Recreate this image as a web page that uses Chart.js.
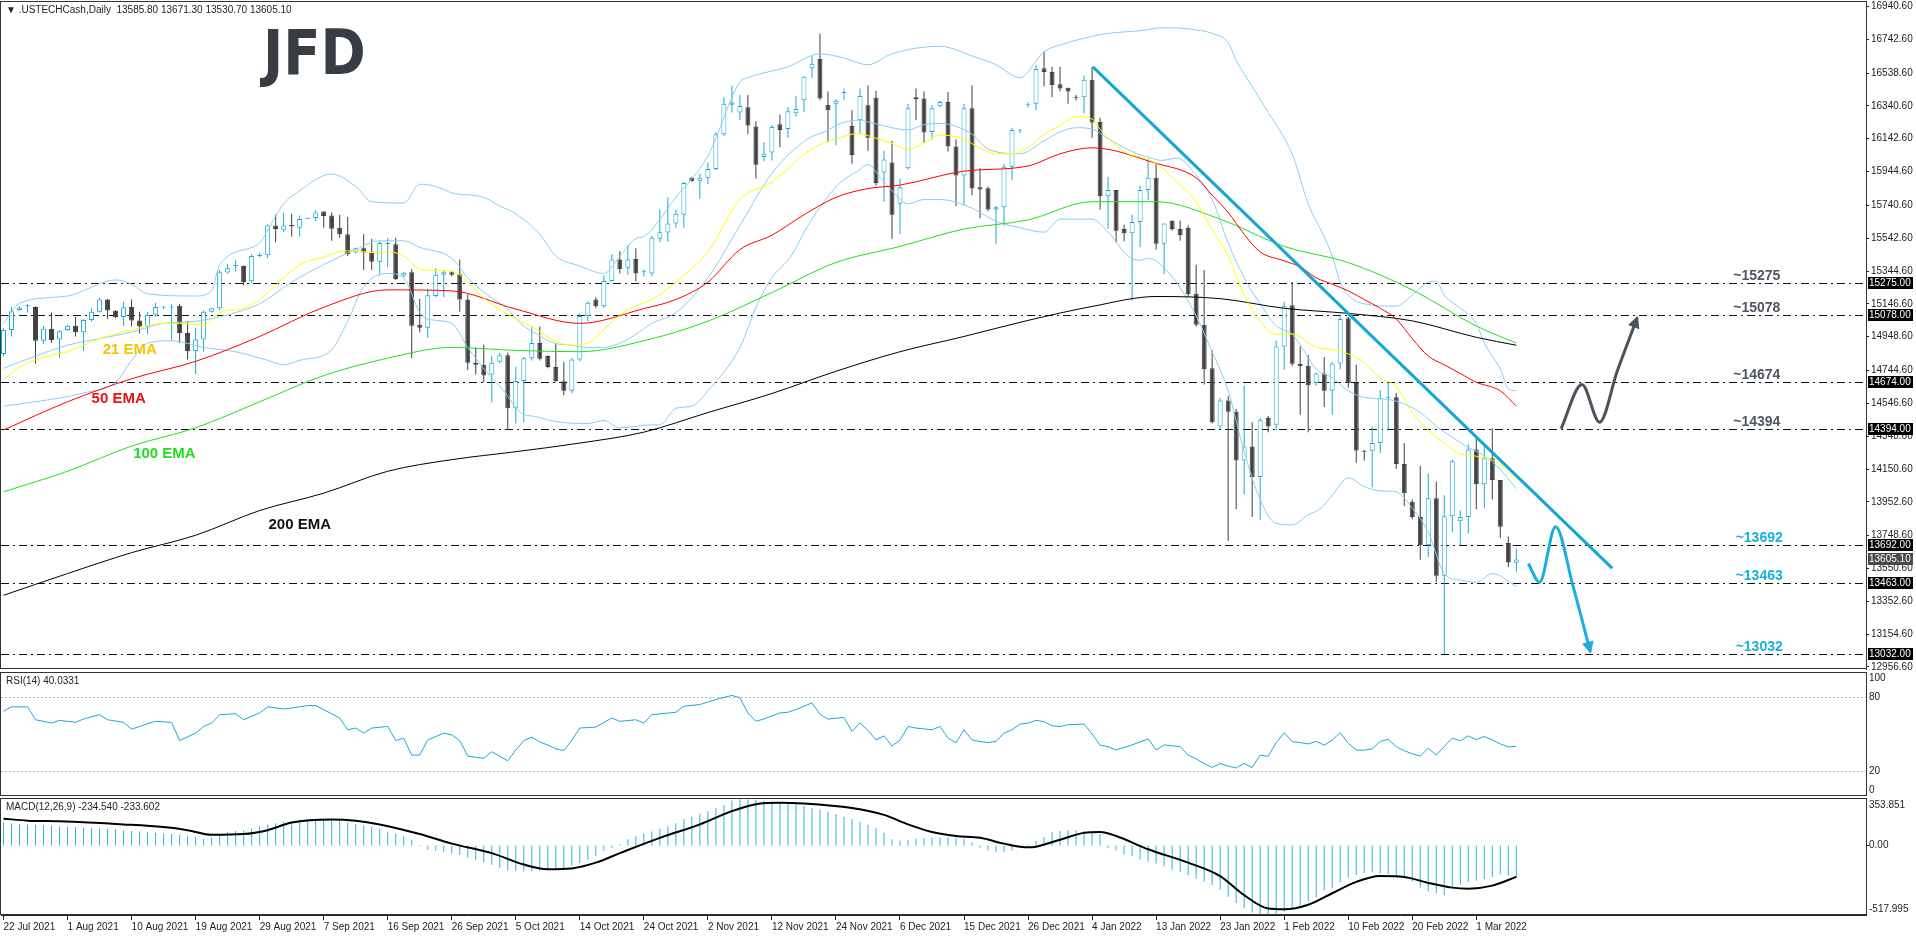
<!DOCTYPE html>
<html>
<head>
<meta charset="utf-8">
<title>.USTECHCash Daily</title>
<script src="https://cdn.jsdelivr.net/npm/chart.js@4.4.1/dist/chart.umd.min.js"></script>
<style>
  html, body { margin: 0; padding: 0; background: #fff; }
  #wrap { position: relative; width: 1916px; height: 936px; overflow: hidden; font-family: "Liberation Sans", Arial, sans-serif; }
  #wrap canvas { position: absolute; left: 0; }
  .tag { position: absolute; left: 6px; font-size: 10px; color: #222; white-space: pre; }
  #logo { position: absolute; left: 263px; top: 22px; font-family: "DejaVu Sans"; font-weight: bold; font-size: 62px; line-height: 62px;
    color: #383d44; transform: scaleX(0.88); transform-origin: 0 0; }
</style>
</head>
<body>
<div id="wrap">
  <canvas id="main" width="1916" height="682" style="top:0;width:1916px;height:682px"></canvas>
  <canvas id="rsi" width="1916" height="124" style="top:672px;width:1916px;height:124px"></canvas>
  <canvas id="macd" width="1916" height="138" style="top:798px;width:1916px;height:138px"></canvas>
  <div class="tag" style="top:4px">▼ .USTECHCash,Daily  13585.80 13671.30 13530.70 13605.10</div>
  <div id="logo">JFD</div>
  <div class="tag" style="top:675px">RSI(14) 40.0331</div>
  <div class="tag" style="top:801px">MACD(12,26,9) -234.540 -233.602</div>
</div>
<script>
// price axis labels (right side)
const priceTicks = [16940.6, 16742.6, 16538.6, 16340.6, 16142.6, 15944.6, 15740.6, 15542.6, 15344.6, 15146.6,
  14948.6, 14744.6, 14546.6, 14348.6, 14150.6, 13952.6, 13748.6, 13550.6, 13352.6, 13154.6, 12956.6];

// one date label every 8 bars
const dateLabels = ['22 Jul 2021', '1 Aug 2021', '10 Aug 2021', '19 Aug 2021', '29 Aug 2021', '7 Sep 2021',
  '16 Sep 2021', '26 Sep 2021', '5 Oct 2021', '14 Oct 2021', '24 Oct 2021', '2 Nov 2021', '12 Nov 2021',
  '24 Nov 2021', '6 Dec 2021', '15 Dec 2021', '26 Dec 2021', '4 Jan 2022', '13 Jan 2022', '23 Jan 2022',
  '1 Feb 2022', '10 Feb 2022', '20 Feb 2022', '1 Mar 2022'];

const opens = [
  14845,14989,15110,15133,15128,14924,14997,14931,14989,15015,
  14976,15050,15099,15173,15105,15068,15128,15047,15010,15081,
  15125,15125,15136,14971,14863,14931,15099,15120,15336,15375,
  15375,15283,15436,15440,15619,15593,15622,15606,15660,15664,
  15703,15679,15606,15566,15456,15482,15461,15401,15508,15506,
  15317,15338,15020,15002,15194,15322,15338,15325,15173,14792,
  14779,14721,14797,14837,14517,14682,14819,14910,14832,14766,
  14680,14622,14811,15073,15173,15133,15285,15414,15364,15417,
  15338,15330,15540,15577,15632,15684,15907,15886,15907,15960,
  16170,16348,16301,16332,16217,16033,16059,16230,16201,16296,
  16374,16568,16624,16348,16353,16419,16220,16254,16345,16390,
  15939,15999,15750,15965,16393,16385,16183,16338,16364,16096,
  15921,16327,15850,15844,15716,15729,15973,16193,16345,16353,
  16568,16545,16471,16450,16393,16393,16498,16243,15795,15834,
  15598,15572,15640,15834,15907,15509,15650,15598,15606,15207,
  15021,14758,14407,14564,14496,14202,14286,14102,14459,14417,
  14889,15139,14785,14774,14669,14727,14622,14787,15060,14669,
  14257,14260,14307,14577,14583,14181,13953,13861,13691,13974,
  13507,13866,13835,13861,14268,14058,14215,14084,13704,13585.8];
const highs = [
  15000,15128,15130,15145,15133,15015,15094,14989,15020,15068,
  15054,15120,15183,15178,15108,15160,15173,15099,15099,15154,
  15133,15145,15146,15042,15002,15107,15122,15351,15388,15409,
  15378,15448,15456,15627,15684,15698,15690,15679,15668,15711,
  15705,15698,15684,15671,15485,15566,15540,15527,15545,15545,
  15340,15356,15178,15238,15362,15351,15343,15414,15204,14884,
  14902,14832,14850,14853,14766,14826,15010,15010,14837,14910,
  14798,14819,15089,15162,15186,15317,15448,15466,15501,15482,
  15356,15558,15716,15789,15716,15881,15910,15933,15999,16183,
  16393,16464,16406,16406,16248,16122,16227,16288,16332,16401,
  16520,16642,16778,16427,16380,16445,16314,16445,16464,16432,
  16070,16130,15902,16353,16445,16427,16345,16372,16424,16138,
  16353,16464,15965,15855,15737,15991,16209,16201,16361,16589,
  16668,16576,16576,16450,16406,16524,16576,16269,15913,15834,
  15624,15684,15860,16025,15999,15632,15650,15650,15619,15383,
  15351,14868,14580,14590,14512,14653,14433,14459,14470,14924,
  15160,15278,14889,14837,14732,14824,14798,15081,15068,14779,
  14267,14407,14627,14674,14609,14307,13966,14171,14124,14076,
  13992,14207,13900,14302,14333,14286,14396,14084,13743,13671.3];
const lows = [
  14830,14950,15105,15095,14785,14905,14910,14819,14985,14950,
  14863,15041,15094,15055,15060,15015,15010,14968,14963,15068,
  15115,14924,14910,14811,14722,14858,15094,15107,15330,15343,
  15259,15272,15430,15422,15519,15580,15553,15553,15658,15645,
  15606,15527,15545,15435,15450,15351,15351,15317,15369,15291,
  15304,14819,14976,14942,15186,15186,15312,15099,14748,14721,
  14674,14551,14787,14386,14425,14433,14805,14805,14758,14674,
  14596,14609,14800,15042,15120,15120,15280,15330,15322,15283,
  15312,15312,15519,15522,15606,15606,15883,15781,15868,15952,
  16160,16301,16254,16170,15902,16007,16012,16091,16149,16275,
  16306,16511,16374,16122,16104,16374,15991,16175,16070,15860,
  15763,15540,15566,15955,16254,16117,16138,16332,16065,15737,
  15742,15802,15663,15705,15506,15619,15894,16175,16332,16314,
  16458,16393,16427,16353,16374,16296,16149,15716,15600,15519,
  15524,15165,15488,15771,15475,15325,15587,15527,15186,15010,
  14661,14425,14394,13717,13908,13998,13861,13843,14373,14386,
  14748,14772,14478,14373,14653,14525,14478,14753,14640,14189,
  14202,14040,14247,14391,14150,13927,13848,13604,13620,13467,
  13035,13769,13691,13761,13908,13914,13966,13735,13559,13530.7];
const closes = [
  14989,15102,15125,15135,14924,14997,14929,14981,15015,14976,
  15050,15099,15173,15107,15068,15126,15047,15010,15081,15128,
  15128,15130,14971,14863,14931,15099,15120,15338,15362,15378,
  15278,15435,15440,15619,15598,15619,15614,15658,15664,15698,
  15677,15600,15566,15448,15482,15456,15401,15514,15511,15296,
  15335,15015,15002,15199,15322,15338,15322,15173,14792,14779,
  14714,14792,14837,14517,14682,14819,14910,14816,14766,14680,
  14622,14811,15073,15154,15133,15285,15414,15356,15414,15330,
  15342,15545,15579,15632,15690,15876,15886,15907,15960,16170,
  16353,16361,16340,16222,15986,16052,16214,16196,16309,16322,
  16516,16595,16385,16314,16372,16421,16044,16401,16149,15876,
  16018,15684,15850,16327,16380,16180,16327,16364,16096,15921,
  16327,15842,15836,15716,15729,15973,16196,16196,16350,16563,
  16545,16466,16445,16427,16390,16498,16240,15795,15834,15587,
  15572,15640,15834,15907,15509,15632,15598,15561,15204,15021,
  14753,14433,14564,14496,14202,14286,14102,14444,14407,14889,
  15133,14785,14772,14656,14727,14622,14787,15055,14669,14262,
  14254,14307,14577,14583,14181,14005,13861,13691,13974,13507,
  13866,14197,13861,14268,14058,14215,14084,13803,13586,13605.1];

// moving averages: [bar, price]
const ema21 = [[0,14687],[2,14766],[6,14837],[8,14858],[12,14937],[16,14989],[20,15029],[22,15029],[25,15021],[27,15094],
  [30,15120],[32,15173],[35,15304],[37,15383],[40,15430],[42,15461],[44,15467],[46,15456],[48,15461],[50,15435],[52,15356],
  [56,15343],[57.5,15304],[59.6,15199],[61.7,15120],[64.6,15042],[66.7,14989],[68.8,14924],[70.9,14897],[73,14910],[75,14989],
  [77,15081],[79,15133],[81,15173],[84,15278],[88,15461],[92,15776],[96,15881],[100.5,16065],[102.5,16117],[104.6,16149],
  [106.7,16175],[108.8,16149],[110.9,16117],[113,16078],[115,16117],[117,16165],[120,16140],[122,16085],[124,16052],[126,16052],
  [128,16091],[130,16170],[132,16222],[134,16275],[136,16262],[137,16200],[140,16065],[143,16018],[144.6,15973],[146,15907],
  [148.8,15776],[151,15593],[153,15435],[155,15199],[157,15042],[159,14963],[161,14966],[164,14884],[166,14871],[168,14845],
  [170,14792],[172,14701],[174,14648],[176,14491],[178,14386],[180,14307],[182,14241],[184,14228],[186.7,14189],[189,14084]];
const ema50 = [[0,14386],[8,14556],[16,14695],[24,14800],[32,14950],[40,15126],[48,15231],[56,15225],[64,15115],[72,15029],
  [80,15118],[84,15173],[88,15278],[92,15474],[96,15561],[100,15684],[104,15789],[108,15842],[112,15863],[120,15947],
  [128,15978],[132,16052],[136,16088],[144,15994],[149,15907],[151,15802],[153,15698],[155,15566],[157,15460],[160,15406],
  [162,15370],[164,15304],[166,15265],[168,15225],[170,15173],[172,15120],[174,15055],[176,14937],[178,14832],[180,14779],
  [182,14727],[184,14674],[187,14622],[189,14530]];
const ema100 = [[0,14013],[8,14137],[16,14289],[24,14399],[32,14556],[40,14714],[48,14819],[56,14884],[64,14866],[72,14858],
  [80,14924],[88,15042],[96,15215],[104,15396],[112,15493],[120,15598],[128,15653],[136,15763],[144,15763],[152,15658],
  [160,15493],[168,15396],[176,15231],[184,15013],[189,14910]];
const ema200 = [[0,13389],[8,13520],[16,13646],[24,13751],[32,13900],[40,14005],[48,14137],[56,14207],[64,14255],[72,14307],
  [80,14373],[88,14491],[96,14606],[104,14740],[112,14858],[120,14950],[128,15047],[136,15131],[144,15191],[152,15178],
  [160,15120],[168,15089],[176,15044],[184,14945],[189,14897]];

// Bollinger bands: [bar, price]
const bbUpper = [[0,15030],[2,15150],[8,15194],[14,15291],[16,15265],[18,15207],[24,15194],[26,15225],[27,15383],[32,15514],
  [33,15592],[35,15750],[37,15829],[40,15921],[41,15929],[44,15855],[46,15763],[50,15755],[52,15868],[54,15855],[56,15816],
  [60,15789],[62,15737],[64,15690],[67,15566],[69,15435],[72,15375],[75,15330],[77,15435],[79,15540],[80,15553],[84,15789],
  [88,16039],[92,16485],[93,16511],[98,16576],[102,16655],[105,16629],[108,16589],[111,16655],[117,16700],[121,16642],
  [124,16589],[127,16511],[130,16668],[132,16708],[136,16760],[138,16778],[142,16794],[145,16812],[148,16805],[151,16778],
  [153,16721],[154,16616],[156,16458],[158,16301],[161,16050],[163,15750],[165,15550],[166,15435],[167,15278],[168,15199],
  [170,15147],[174,15133],[176,15199],[178,15278],[179,15283],[180,15199],[182,15120],[184,15029],[185,14910],[187,14753],
  [188,14635],[189,14622]];
const bbMiddle = [[0,14758],[4,14832],[8,14897],[12,14937],[16,14976],[20,15029],[24,15042],[28,15081],[32,15147],[36,15278],
  [40,15383],[44,15474],[47,15527],[50,15527],[52,15488],[56,15422],[58,15304],[60.5,15199],[63,15115],[64.6,15029],
  [66.7,14963],[68.8,14910],[71,14897],[73,14884],[75,14884],[77,14910],[79,14963],[81,15029],[84,15094],[88,15304],
  [92,15619],[96,15934],[100.5,16143],[102.5,16183],[104.6,16235],[106.7,16254],[108.8,16235],[111,16209],[113,16196],
  [115,16227],[117,16235],[121,16170],[123,16080],[127,16052],[130,16130],[132,16183],[134,16209],[136,16201],[138,16143],
  [141,16065],[143,16033],[144.6,16012],[146.7,16025],[148.8,15934],[151,15776],[153,15514],[155,15304],[157,15147],
  [159,15015],[161,14963],[162,14900],[164,14753],[166,14701],[168,14622],[170,14583],[173,14570],[175,14543],[177,14491],
  [179.6,14386],[181.3,14333],[183,14281],[184.6,14242],[186.7,14163],[189,14032]];
const bbLower = [[0,14530],[4,14556],[10,14609],[14,14674],[16,14806],[18,14910],[21,14924],[25,14884],[29,14858],[33,14806],
  [35,14779],[37,14806],[41,14870],[43,15042],[45,15251],[48,15330],[50,15304],[52,15094],[53,15055],[56,15029],[58,14884],
  [60.5,14727],[62.5,14622],[64.6,14491],[66.7,14465],[68.8,14438],[73,14425],[75,14443],[77,14399],[81,14417],[82,14417],
  [84,14517],[86,14530],[88,14622],[92,14884],[94.2,15147],[96,15304],[98.4,15435],[100.5,15619],[102.5,15763],[104.6,15881],
  [106.7,15947],[108,15986],[109.6,15907],[111,15829],[113,15750],[115,15776],[117,15776],[121,15724],[122,15698],[124,15645],
  [127,15606],[130,15579],[132,15658],[136,15658],[138,15579],[140.5,15435],[142,15409],[143,15422],[144.6,15383],
  [146.7,15265],[148.8,15094],[151,14858],[153,14622],[155,14255],[157,13966],[159,13822],[161,13814],[163,13874],
  [164.6,13914],[166,13992],[168,14097],[170,14045],[172,14019],[174,14013],[176,13914],[178,13769],[180,13520],[182,13481],
  [184,13468],[186,13520],[189,13441]];

// drawn objects
const resistance = [15275, 15078, 14674, 14394];
const support = [13692, 13463, 13032];
const lastPrice = 13605.10;
const trendLine = [[136.1,16576],[201,13551]];
const bullPath = [[194.6,14394],[197.2,14661],[199.4,14433],[201.6,14740],[204.1,15063]];
const bearPath = [[190.5,13580],[191.9,13468],[193.9,13803],[196.1,13441],[198.25,13048]];

// RSI(14): [bar, value]
const rsi = [[0,68.3],[1,71.9],[3,71.9],[4,61.5],[5,60.2],[6,58.8],[7,61],[9,59.4],[10,62.1],[12,65.6],[13,61.5],[15,59.4],
  [16,53.9],[18,58.3],[19,60.2],[21,59.4],[22,44.7],[24,50.7],[25,56.1],[26,58.8],[27,65.6],[29,66.4],[30,61.5],[32,67],
  [33,71.9],[35,70.2],[36,71],[38,72.9],[39,72.9],[40,69.7],[42,62.9],[43,53.4],[44,54.8],[45,50.7],[46,54.8],[48,56.1],
  [49,44.7],[50,46.6],[51,33],[52,33],[53,45.2],[55,50.7],[56,49.3],[57,44.7],[58,32.2],[60,30.3],[61,35.7],[63,28.4],
  [64,37],[65,44.7],[66,47.5],[67,43.5],[68,41.2],[69,38],[70,36.6],[71,45],[72,54.8],[74,55.6],[76,62.9],[77,60.2],
  [79,61.5],[80,58.8],[81,65.6],[84,67.5],[85,72.4],[87,73.8],[89,77.8],[91,81.1],[92,79.2],[93,67],[94,60.2],[95,62.1],
  [97,67],[98,67.5],[99,69.7],[101,75.1],[102,66],[103,62],[105,63.4],[106,52],[107,58.8],[108,53],[109,45.2],[110,48.5],
  [111,40.4],[112,45],[113,56.1],[114,54.8],[116,53.4],[117,56.1],[118,46.6],[119,43],[120,53.4],[121,45.2],[122,43.9],
  [123,43.1],[124,44],[125,50.7],[126,53.4],[127,58],[128,58.8],[129,61],[130,60],[131,56.6],[132,56],[133,57.5],[135,58],
  [136,50],[137,41],[138,39.8],[139,37.1],[141,41.2],[143,46.1],[144,37.1],[145,41.2],[146,40.5],[147,39.8],[148,33],
  [149,30],[150,26.2],[151,23],[152,26.2],[153,24.1],[154,22.6],[155,26.2],[156,23],[157,33],[158,32],[159,43],[160,51],
  [161,43.9],[162,43.1],[163,42],[164,44],[165,41],[166,45],[167,51.2],[168,42.5],[169,37.1],[170,37],[171,38],[172,44],
  [173,45.8],[174,39.8],[175,36.6],[176,34],[177,32.2],[178,38.5],[179,33],[180,40],[181,46.6],[182,44.5],[183,48.5],
  [184,45.5],[185,48],[186,45.2],[187,42],[188,39.6],[189,40.03]];

// MACD(12,26,9): main per bar, signal as [bar, value]
const macdMain = [
  171,165,160,157,154,151,148,142,140,137, 134,131,128,123,120,114,108,105,100,94,
  91,85,80,71,63,51,57,85,100,108, 114,125,140,154,165,177,182,191,194,194,
  194,191,182,171,160,148,137,125,103,88, 71,43,-6,-31,-40,-48,-60,-71,-91,-108,
  -123,-143,-165,-185,-188,-194,-194,-188,-185,-177, -171,-151,-131,-108,-77,-40,-20,9,46,71,
  88,105,125,142,165,197,214,237,256,279, 302,336,345,342,339,333,328,319,313,305,
  294,279,268,251,234,214,197,177,154,128, 94,46,37,40,51,54,57,60,63,57,
  51,23,-17,-37,-48,-46,-40,-17,6,34, 63,100,108,114,111,108,100,85,-20,-37,
  -68,-80,-105,-120,-134,-154,-180,-200,-222,-248, -268,-294,-328,-382,-428,-467,-499,-518,-513,-508,
  -493,-476,-447,-416,-385,-336,-316,-276,-239,-219, -205,-200,-208,-214,-234,-242,-271,-314,-342,-356,
  -370,-314,-291,-271,-262,-251,-234,-214,-222,-234.54];
const macdSignal = [[0,200],[3,185],[7,180],[15,157],[20,137],[23,114],[26,80],[30,85],[33,114],[36,171],[41,194],[44,185],
  [47,157],[52,85],[56,14],[61,-57],[65,-142],[68,-177],[71,-171],[74,-128],[77,-57],[82,57],[87,157],[91,256],[94,308],
  [97,319],[100,313],[106,279],[110,228],[113,157],[116,100],[119,71],[122,57],[125,14],[128,-14],[129,-9],[132,43],[135,94],
  [137,100],[139,71],[143,-28],[148,-128],[152,-228],[155,-370],[158,-470],[160,-476],[163,-442],[166,-356],[169,-271],
  [172,-228],[175,-234],[178,-279],[181,-314],[183,-322],[186,-299],[189,-233.602]];

Chart.defaults.font.family = '"Liberation Sans", Arial, sans-serif';
Chart.defaults.font.size = 10;
Chart.defaults.color = '#222';

const UP = '#1aa9d6', DOWN = '#404040', BB = '#8ccdf3';
const X_MIN = -0.3125, X_MAX = 232.6875;
const fixY = s => { s.width = 50; s.paddingTop = 0; s.paddingBottom = 0; };
const hiddenX = { type: 'linear', min: X_MIN, max: X_MAX, offset: false, display: false, grid: { offset: false } };
const base = { responsive: false, animation: false, devicePixelRatio: 1, events: [],
  plugins: { legend: { display: false }, tooltip: { enabled: false } } };

const lineDs = (pts, color, width, order, smooth = true) => ({
  type: 'line', data: pts.map(([x, y]) => ({ x, y })), borderColor: color, borderWidth: width,
  pointRadius: 0, fill: false, order, cubicInterpolationMode: smooth ? 'monotone' : 'default', tension: 0
});

function frame(c) {
  const { ctx, chartArea: a } = c;
  ctx.save();
  ctx.strokeStyle = '#333';
  ctx.lineWidth = 1;
  ctx.strokeRect(a.left - 0.5, a.top + 0.5, a.right - a.left + 1, a.bottom - a.top - 1);
  ctx.restore();
}

function arrowHead(ctx, x, y, pts, color) {
  const [p, q] = pts.slice(-2);
  const x0 = x.getPixelForValue(p[0]), y0 = y.getPixelForValue(p[1]);
  const x1 = x.getPixelForValue(q[0]), y1 = y.getPixelForValue(q[1]);
  const ang = Math.atan2(y1 - y0, x1 - x0);
  ctx.save();
  ctx.translate(x1, y1);
  ctx.rotate(ang);
  ctx.fillStyle = color;
  ctx.beginPath();
  ctx.moveTo(2, 0);
  ctx.lineTo(-10, -6);
  ctx.lineTo(-10, 6);
  ctx.closePath();
  ctx.fill();
  ctx.restore();
}

const bars = closes.map((c, i) => i);
const rising = bars.map(i => closes[i] >= opens[i]);

const mainDeco = {
  id: 'mainDeco',
  beforeDatasetsDraw(c) {
    const { ctx, chartArea: a, scales: { y } } = c;
    ctx.save();
    ctx.strokeStyle = '#111';
    ctx.lineWidth = 1;
    ctx.setLineDash([8, 4, 2, 4]);
    [...resistance, ...support].forEach(v => {
      const py = Math.round(y.getPixelForValue(v)) + 0.5;
      ctx.beginPath();
      ctx.moveTo(a.left, py);
      ctx.lineTo(a.right, py);
      ctx.stroke();
    });
    ctx.restore();
  },
  afterDatasetsDraw(c) {
    const { ctx, scales: { x, y } } = c;
    arrowHead(ctx, x, y, bullPath, '#4b535d');
    arrowHead(ctx, x, y, bearPath, '#19aede');
    ctx.save();
    ctx.font = 'bold 15px "Liberation Sans", Arial, sans-serif';
    ctx.textBaseline = 'middle';
    const tag = (t, bar, price, color) => {
      ctx.fillStyle = color;
      ctx.fillText(t, x.getPixelForValue(bar), y.getPixelForValue(price));
    };
    tag('21 EMA', 12.4, 14868, '#f6c400');
    tag('50 EMA', 11, 14573, '#ee1111');
    tag('100 EMA', 16.2, 14241, '#22dd22');
    tag('200 EMA', 33.1, 13813, '#111');
    ctx.font = 'bold 14px "Liberation Sans", Arial, sans-serif';
    ctx.textBaseline = 'alphabetic';
    resistance.forEach(v => {
      ctx.fillStyle = '#4f5763';
      ctx.fillText('~' + v, x.getPixelForValue(216.1), Math.round(y.getPixelForValue(v)) - 3);
    });
    support.forEach(v => {
      ctx.fillStyle = '#1ab0dc';
      ctx.fillText('~' + v, x.getPixelForValue(216.4), Math.round(y.getPixelForValue(v)) - 3);
    });
    ctx.restore();
  },
  afterDraw(c) {
    const { ctx, chartArea: a, scales: { y } } = c;
    frame(c);
    ctx.save();
    ctx.font = '10px "Liberation Sans", Arial, sans-serif';
    ctx.textBaseline = 'middle';
    const box = (v, bg) => {
      const py = Math.round(y.getPixelForValue(v));
      ctx.fillStyle = bg;
      ctx.fillRect(a.right + 2, py - 6, 45, 12);
      ctx.fillStyle = '#fff';
      ctx.fillText(v.toFixed(2), a.right + 3, py + 0.5);
    };
    [...resistance, ...support].forEach(v => box(v, '#000'));
    box(lastPrice, '#4a4a4a');
    ctx.restore();
  }
};

new Chart(document.getElementById('main'), {
  type: 'line',
  data: {
    datasets: [
      { type: 'bar', data: bars.map(i => ({ x: i, y: [lows[i], highs[i]] })),
        backgroundColor: bars.map(i => rising[i] ? UP : DOWN),
        barThickness: 1, grouped: false, inflateAmount: 0, order: 20 },
      { type: 'bar', data: bars.map(i => ({ x: i, y: [opens[i], closes[i]] })),
        backgroundColor: bars.map(i => !rising[i] ? DOWN : (Math.abs(closes[i] - opens[i]) < 10 ? UP : '#fff')),
        borderColor: bars.map(i => rising[i] ? UP : DOWN),
        borderWidth: 1, borderSkipped: false, barThickness: 5, minBarLength: 1,
        grouped: false, inflateAmount: 0, order: 19 },
      lineDs(bbUpper, BB, 1, 12),
      lineDs(bbMiddle, BB, 1, 12),
      lineDs(bbLower, BB, 1, 12),
      lineDs(ema200, '#000', 1, 8),
      lineDs(ema100, '#1fe01f', 1, 7),
      lineDs(ema50, '#ff0000', 1, 6),
      lineDs(ema21, '#ffff00', 1, 5),
      lineDs(trendLine, '#17a6d4', 3, 3, false),
      lineDs(bullPath, '#4b535d', 3, 2),
      lineDs(bearPath, '#19aede', 3, 2)
    ]
  },
  options: {
    ...base,
    layout: { padding: { left: 1, top: 1, right: 0, bottom: 13 } },
    scales: {
      x: hiddenX,
      y: {
        position: 'right', min: 12944.4, max: 16973.3,
        afterBuildTicks: s => { s.ticks = priceTicks.map(v => ({ value: v })); },
        afterFit: fixY,
        ticks: { callback: v => v.toFixed(2), padding: 2, autoSkip: false },
        grid: { drawOnChartArea: false, tickLength: 3, color: '#222' },
        border: { color: '#222' }
      }
    }
  },
  plugins: [mainDeco]
});

const sideLabel = (ctx, a, text, py, baseline) => {
  ctx.textBaseline = baseline;
  ctx.fillText(text, a.right + 3, py);
};

new Chart(document.getElementById('rsi'), {
  type: 'line',
  data: { datasets: [lineDs(rsi, '#1aa9d6', 1, 1, false)] },
  options: {
    ...base,
    layout: { padding: { left: 1, top: 0, right: 0, bottom: 0 } },
    scales: {
      x: hiddenX,
      y: { position: 'right', min: 0, max: 100, afterFit: fixY,
        ticks: { display: false }, grid: { display: false }, border: { color: '#222' } }
    }
  },
  plugins: [{
    id: 'rsiDeco',
    beforeDatasetsDraw(c) {
      const { ctx, chartArea: a, scales: { y } } = c;
      ctx.save();
      ctx.strokeStyle = '#b8b8b8';
      ctx.setLineDash([2, 2]);
      [80, 20].forEach(v => {
        const py = Math.round(y.getPixelForValue(v)) + 0.5;
        ctx.beginPath(); ctx.moveTo(a.left, py); ctx.lineTo(a.right, py); ctx.stroke();
      });
      ctx.restore();
    },
    afterDraw(c) {
      const { ctx, chartArea: a, scales: { y } } = c;
      frame(c);
      ctx.save();
      ctx.font = '10px "Liberation Sans", Arial, sans-serif';
      ctx.fillStyle = '#222';
      sideLabel(ctx, a, '100', a.top + 1, 'top');
      sideLabel(ctx, a, '80', y.getPixelForValue(80), 'middle');
      sideLabel(ctx, a, '20', y.getPixelForValue(20), 'middle');
      sideLabel(ctx, a, '0', a.bottom - 1, 'bottom');
      ctx.restore();
    }
  }]
});

new Chart(document.getElementById('macd'), {
  type: 'line',
  data: {
    datasets: [
      { type: 'bar', data: macdMain.map((v, i) => ({ x: i, y: v })), backgroundColor: '#2cb2de',
        barThickness: 1, grouped: false, inflateAmount: 0, order: 5 },
      lineDs(macdSignal, '#000', 2, 1)
    ]
  },
  options: {
    ...base,
    layout: { padding: { left: 1, top: 0, right: 0, bottom: 0 } },
    scales: {
      x: {
        type: 'linear', min: X_MIN, max: X_MAX, offset: false, position: 'bottom',
        afterBuildTicks: s => { s.ticks = dateLabels.map((_, k) => ({ value: k * 8 })); },
        afterFit: s => { s.height = 21; s.paddingLeft = 0; s.paddingRight = 0; },
        ticks: { callback: (v, i) => dateLabels[i], align: 'start', maxRotation: 0, autoSkip: false, padding: 1 },
        grid: { drawOnChartArea: false, tickLength: 5, color: '#222', offset: false },
        border: { color: '#222' }
      },
      y: { position: 'right', min: -517.995, max: 353.851, afterFit: fixY,
        ticks: { display: false }, grid: { display: false }, border: { color: '#222' } }
    }
  },
  plugins: [{
    id: 'macdDeco',
    afterDraw(c) {
      const { ctx, chartArea: a, scales: { y } } = c;
      frame(c);
      ctx.save();
      ctx.font = '10px "Liberation Sans", Arial, sans-serif';
      ctx.fillStyle = '#222';
      const z = Math.round(y.getPixelForValue(0)) + 0.5;
      ctx.strokeStyle = '#222';
      ctx.beginPath(); ctx.moveTo(a.right, z); ctx.lineTo(a.right + 3, z); ctx.stroke();
      sideLabel(ctx, a, '353.851', a.top + 2, 'top');
      sideLabel(ctx, a, '0.00', z, 'middle');
      sideLabel(ctx, a, '-517.995', a.bottom - 1, 'bottom');
      ctx.restore();
    }
  }]
});
</script>
</body>
</html>
